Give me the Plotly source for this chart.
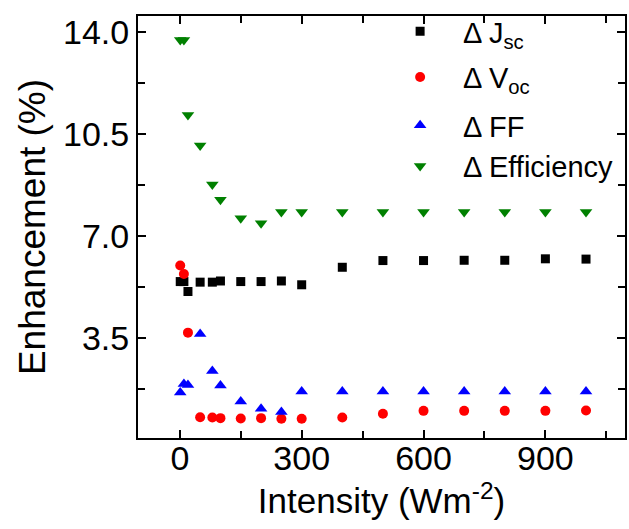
import plotly.graph_objects as go

intensity = [1, 10, 20, 50, 80, 100, 150, 200, 250, 300, 400, 500, 600, 700, 800, 900, 1000]
jsc = [5.44, 5.44, 5.10, 5.42, 5.42, 5.46, 5.44, 5.44, 5.46, 5.33, 5.93, 6.16, 6.16, 6.17, 6.17, 6.22, 6.21]
voc = [5.99, 5.70, 3.69, 0.79, 0.78, 0.76, 0.75, 0.76, 0.74, 0.74, 0.78, 0.91, 1.01, 1.01, 1.01, 1.01, 1.02]
ff = [1.64, 1.93, 1.90, 3.64, 2.38, 1.88, 1.33, 1.08, 0.97, 1.67, 1.67, 1.67, 1.67, 1.67, 1.67, 1.67, 1.67]
eff = [13.72, 13.72, 11.15, 10.10, 8.77, 8.24, 7.61, 7.44, 7.82, 7.82, 7.82, 7.82, 7.82, 7.82, 7.82, 7.82, 7.82]

x_ticks = [0, 300, 600, 900]
y_ticks = [3.5, 7.0, 10.5, 14.0]
y_tick_labels = ["3.5", "7.0", "10.5", "14.0"]

FONT = "Liberation Sans, Arial, sans-serif"

fig = go.Figure()
fig.add_trace(go.Scatter(x=intensity, y=jsc, mode="markers", name="Δ J<sub>sc</sub>",
                         legend="legend", legendgroup="a",
                         marker=dict(symbol="square", size=9, color="black")))
fig.add_trace(go.Scatter(x=intensity, y=voc, mode="markers", name="Δ V<sub>oc</sub>",
                         legend="legend", legendgroup="b",
                         marker=dict(symbol="circle", size=10, color="red")))
fig.add_trace(go.Scatter(x=intensity, y=ff, mode="markers", name="Δ FF",
                         legend="legend2",
                         marker=dict(symbol="triangle-up", size=11, color="blue")))
fig.add_trace(go.Scatter(x=intensity, y=eff, mode="markers", name="Δ Efficiency",
                         legend="legend2",
                         marker=dict(symbol="triangle-down", size=11, color="green")))

axis_common = dict(showline=True, linecolor="black", linewidth=2, mirror="allticks",
                   ticks="inside", ticklen=8, tickwidth=2, tickcolor="black",
                   showgrid=False, zeroline=False,
                   tickfont=dict(family=FONT, size=34, color="black"))

fig.update_xaxes(range=[-103, 1096], tickvals=x_ticks, ticklabelstandoff=-11,
                 minor=dict(dtick=150, tick0=0, ticks="inside", ticklen=7, tickwidth=2, tickcolor="black"),
                 title=dict(text="Intensity (Wm<sup>-2</sup>)", font=dict(family=FONT, size=35, color="black"), standoff=0),
                 **axis_common)
fig.update_yaxes(range=[0.08, 14.54], tickvals=y_ticks, ticktext=y_tick_labels,
                 minor=dict(dtick=1.75, tick0=0, ticks="inside", ticklen=7, tickwidth=2, tickcolor="black"),
                 title=dict(text="Enhancement (%)", font=dict(family=FONT, size=37, color="black"), standoff=6),
                 **axis_common)

legend_common = dict(xanchor="left", yanchor="top", bgcolor="rgba(0,0,0,0)",
                     font=dict(family=FONT, size=29, color="black"), itemwidth=76)

fig.update_layout(
    width=629, height=529,
    margin=dict(l=138, r=2, t=16, b=91),
    plot_bgcolor="white", paper_bgcolor="white",
    font=dict(family=FONT, color="black"),
    legend=dict(x=0.491, y=1.024, tracegroupgap=5, **legend_common),
    legend2=dict(x=0.491, y=0.801, tracegroupgap=0, traceorder="normal", **legend_common),
)

fig.write_html("out.html")
